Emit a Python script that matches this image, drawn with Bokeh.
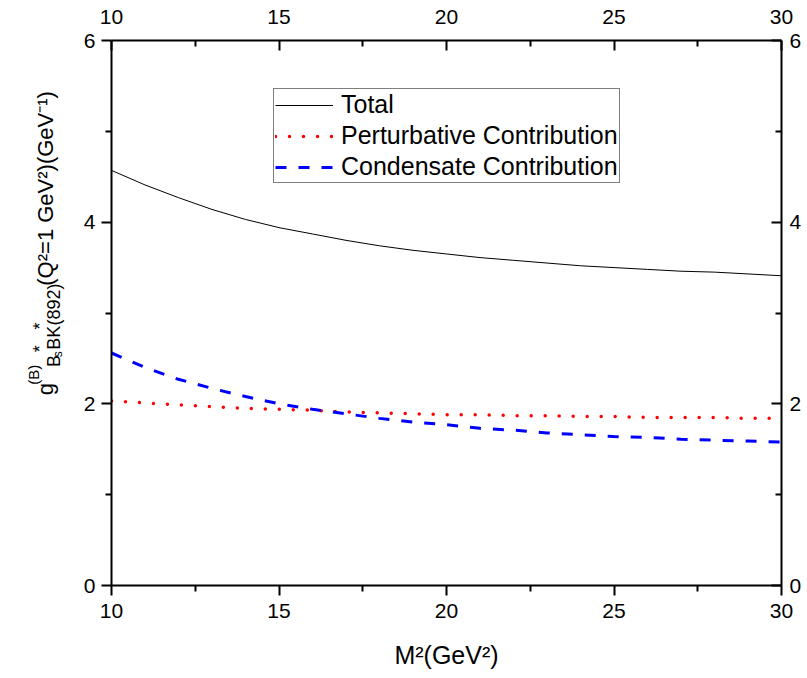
from math import pi
from bokeh.plotting import figure
from bokeh.layouts import row
from bokeh.models import Range1d, FixedTicker, LinearAxis, Legend, LegendItem
from bokeh.core.properties import value
from bokeh.embed import file_html
from bokeh.resources import INLINE

# ---- data ----
m2 = [10, 11, 12, 13, 14, 15, 16, 17, 18, 19, 20, 21, 22, 23, 24, 25, 26, 27, 28, 29, 30]
total = [4.57, 4.41, 4.27, 4.14, 4.03, 3.94, 3.87, 3.80, 3.74, 3.69, 3.65,
         3.61, 3.58, 3.55, 3.52, 3.50, 3.48, 3.46, 3.45, 3.43, 3.41]
perturbative = [2.03, 2.01, 1.99, 1.97, 1.95, 1.94, 1.93, 1.91, 1.90, 1.89, 1.88,
                1.88, 1.87, 1.87, 1.86, 1.86, 1.85, 1.85, 1.85, 1.84, 1.84]
condensate = [2.56, 2.40, 2.27, 2.17, 2.08, 2.00, 1.94, 1.89, 1.84, 1.80, 1.77,
              1.73, 1.71, 1.68, 1.66, 1.64, 1.63, 1.61, 1.60, 1.59, 1.58]
x_major = [10, 15, 20, 25, 30]
x_minor = [12.5, 17.5, 22.5, 27.5]
y_major = [0, 2, 4, 6]
y_minor = [1, 3, 5]
series_names = ["Total", "Perturbative Contribution", "Condensate Contribution"]

FONT = "Liberation Sans"
H = 670          # total height
LW = 72          # width of the strip carrying the y title

# ---------------- main plot ----------------
p = figure(frame_width=670, frame_height=545,
           min_border_left=111 - LW, min_border_right=24, min_border_top=40, min_border_bottom=85,
           x_range=Range1d(10, 30), y_range=Range1d(0, 6),
           output_backend="svg", toolbar_location=None)
p.xgrid.visible = False
p.ygrid.visible = False
p.outline_line_color = None
p.background_fill_color = "white"
p.border_fill_color = "white"

xt = FixedTicker(ticks=x_major, minor_ticks=x_minor)
yt = FixedTicker(ticks=y_major, minor_ticks=y_minor)


def style(ax, inward, standoff):
    ax.axis_line_color = "black"
    ax.axis_line_width = 2
    ax.major_tick_line_color = "black"
    ax.minor_tick_line_color = "black"
    ax.major_tick_line_width = 2
    ax.minor_tick_line_width = 2
    if inward:
        ax.major_tick_in, ax.major_tick_out = 10, 0
        ax.minor_tick_in, ax.minor_tick_out = 6, 0
    else:
        ax.major_tick_in, ax.major_tick_out = 0, 10
        ax.minor_tick_in, ax.minor_tick_out = 0, 6
    ax.major_label_text_font = FONT
    ax.major_label_text_font_size = "21px"
    ax.major_label_text_color = "black"
    ax.major_label_standoff = standoff


bx = p.xaxis[0]
bx.ticker = xt
style(bx, False, 8)
bx.axis_label = "M²(GeV²)"
bx.axis_label_text_font = FONT
bx.axis_label_text_font_size = "25px"
bx.axis_label_text_font_style = "normal"
bx.axis_label_text_color = "black"
bx.axis_label_standoff = 20

ly = p.yaxis[0]
ly.ticker = yt
style(ly, False, 6)

tx = LinearAxis(ticker=xt)
style(tx, True, 17)
p.add_layout(tx, "above")

ry = LinearAxis(ticker=yt)
style(ry, True, 8)
p.add_layout(ry, "right")

r_total = p.line(m2, total, line_color="black", line_width=1)
r_pert = p.line(m2, perturbative, line_color="red", line_width=3.5, line_dash="0 14",
                line_cap="round")
r_cond = p.line(m2, condensate, line_color="blue", line_width=3, line_dash="11 12")

legend = Legend(items=[LegendItem(label=series_names[0], renderers=[r_total]),
                       LegendItem(label=series_names[1], renderers=[r_pert]),
                       LegendItem(label=series_names[2], renderers=[r_cond])],
                location=(162, 402))
legend.label_text_font = FONT
legend.label_text_font_size = "25px"
legend.label_text_color = "black"
legend.border_line_color = "black"
legend.border_line_width = 1
legend.background_fill_color = "white"
legend.background_fill_alpha = 1
legend.padding = 1
legend.margin = 0
legend.spacing = 2
legend.label_height = 22
legend.glyph_height = 22
legend.glyph_width = 58
legend.label_standoff = 8
p.add_layout(legend)

# ---------------- strip with the composed, rotated y title ----------------
t = figure(width=LW, height=H, min_border=0, x_range=Range1d(0, LW), y_range=Range1d(0, H),
           x_axis_type=None, y_axis_type=None, output_backend="svg", toolbar_location=None)
t.xgrid.visible = False
t.ygrid.visible = False
t.outline_line_color = None
t.background_fill_color = "white"
t.border_fill_color = "white"

pieces = [
    # text, font size, baseline x (px from left), start y (px from top)
    ("g", 22, 45, 437),
    ("(B)", 15, 33, 424),
    ("B", 18, 53, 402),
    ("s", 12, 57, 390),
    ("*", 18, 39, 384),
    ("BK", 18, 53, 381),
    ("*", 18, 39, 356),
    (" (892)", 18, 53, 351),
    ("(Q²=1 GeV²)(GeV⁻¹)", 22, 45, 302),
]
for txt, size, bxp, byp in pieces:
    t.text(x=[bxp], y=[H - byp], text=[txt], angle=pi / 2,
           text_font=value(FONT), text_font_size=value(f"{size}px"), text_color="black",
           text_align="left", text_baseline="alphabetic")

layout = row(t, p)
open("out.html", "w").write(file_html(layout, INLINE))
